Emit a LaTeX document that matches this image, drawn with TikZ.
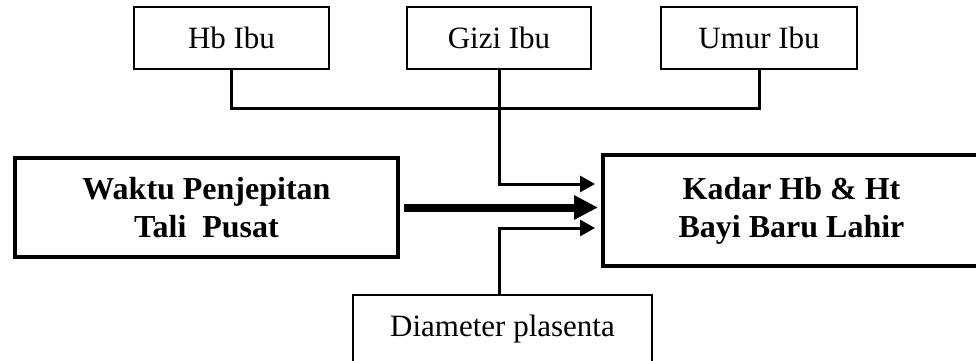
\documentclass[tikz,border=0pt]{standalone}
\usepackage{fontspec}
\setmainfont{Liberation Serif}
\usetikzlibrary{arrows.meta}

\tikzset{
  topbox/.style={draw, line width=1.3pt, inner sep=0pt, minimum height=62pt,
    font=\fontsize{31pt}{38pt}\selectfont},
  mainbox/.style={draw, line width=4pt, inner sep=0pt, align=center,
    font=\fontsize{32pt}{38pt}\selectfont\bfseries},
  conn/.style={line width=3pt},
  thinarrow/.style={conn, -{Triangle[length=15pt,width=16pt]}, shorten >=6pt},
  thickarrow/.style={line width=8pt, -{Triangle[length=24pt,width=23pt]},
    shorten >=3pt, shorten <=4pt}
}

\begin{document}
\begin{tikzpicture}[x=1pt,y=-1pt]
  \useasboundingbox (0,0) rectangle (976,360);

  % factors on the mother's side
  \node[topbox, minimum width=195pt] (hb)    at (231.5,38) {Hb Ibu};
  \node[topbox, minimum width=184pt] (gizi)  at (499,38)   {Gizi Ibu};
  \node[topbox, minimum width=196pt] (umur)  at (759,38)   {Umur Ibu};

  % main variables
  \node[mainbox, minimum width=383pt, minimum height=99pt] (waktu) at (206.5,207.5)
    {Waktu Penjepitan\\Tali\ \ Pusat};
  \node[mainbox, minimum width=377pt, minimum height=111pt] (kadar) at (791.5,210.5)
    {Kadar Hb \& Ht\\Bayi Baru Lahir};

  % placenta box, running past the lower edge
  \node[draw, line width=2pt, inner sep=0pt, anchor=north,
        minimum width=299pt, text height=41pt, text depth=40pt,
        font=\fontsize{31pt}{38pt}\selectfont] (diam) at (502.5,294)
    {Diameter plasenta};

  % bus joining the three upper boxes
  \coordinate (busR) at (759,108);
  \draw[conn] (hb.south) |- (busR) -- (umur.south);

  % arrows into the outcome box
  \draw[thinarrow] (gizi.south) |- ([yshift=26.5pt]kadar.west);
  \draw[thickarrow] (waktu.east) -- ([yshift=3pt]kadar.west);
  \draw[thinarrow] ([xshift=-3.5pt]diam.north) |- ([yshift=-17.5pt]kadar.west);
\end{tikzpicture}
\end{document}
